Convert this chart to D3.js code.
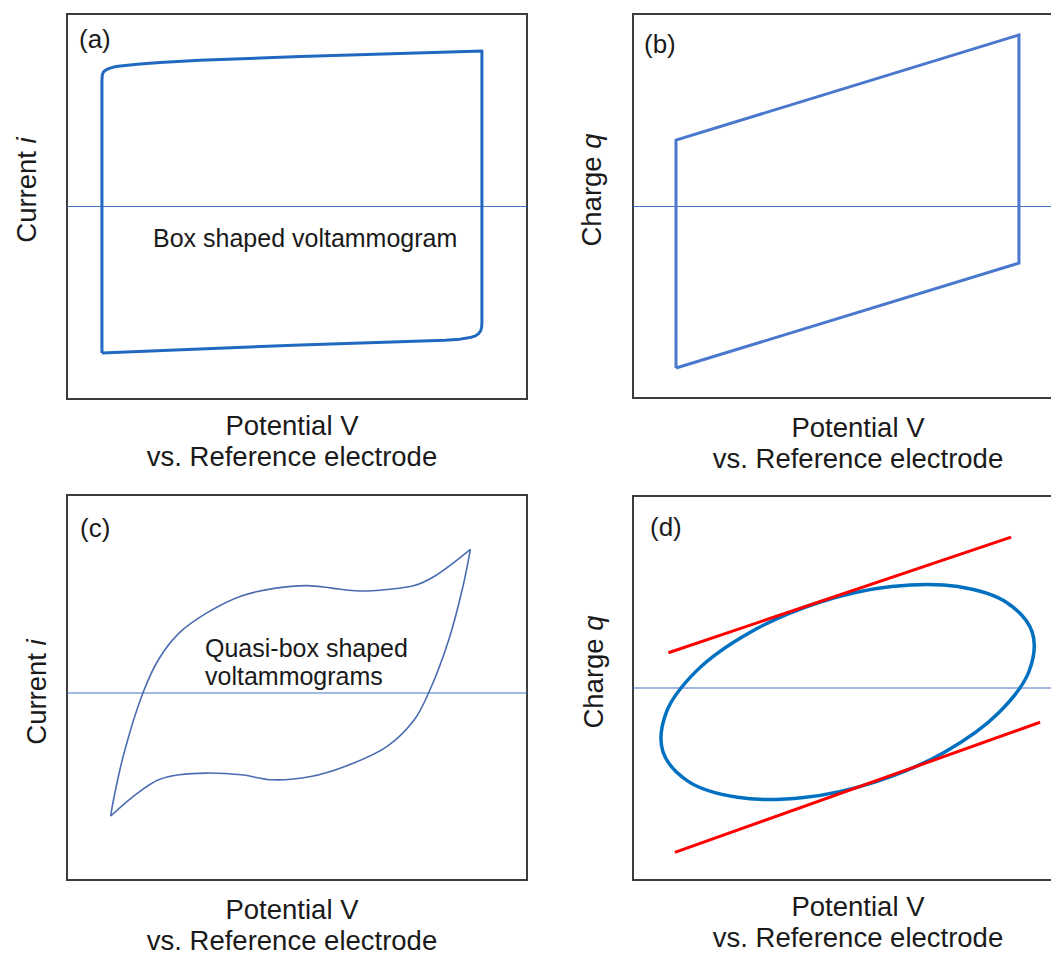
<!DOCTYPE html>
<html>
<head>
<meta charset="utf-8">
<script src="https://cdn.jsdelivr.net/npm/d3@7"></script>
<style>
  body { margin: 0; background: #fff; }
  text { font-family: "Liberation Sans", Arial, sans-serif; fill: #1a1a1a; }
</style>
</head>
<body>
<svg id="chart" width="1051" height="955"></svg>
<script>
// normalised potential (0..1) vs normalised current / charge (-1..1)
const boxCV = [
  [0.076, -0.761], [0.076, 0.657], [0.0767, 0.683], [0.0793, 0.699], [0.0848, 0.710],
  [0.0935, 0.719], [0.1065, 0.727], [0.1261, 0.733], [0.1587, 0.740], [0.2022, 0.748],
  [0.2891, 0.760], [0.507, 0.779], [0.724, 0.795], [0.902, 0.808],
  [0.902, -0.600], [0.9015, -0.626], [0.8996, -0.644], [0.8952, -0.660], [0.8880, -0.672],
  [0.8761, -0.681], [0.8543, -0.689], [0.8217, -0.695], [0.507, -0.719], [0.289, -0.740],
  [0.076, -0.761]
];
const chargeBox = [
  [0.0935, -0.839], [0.0935, 0.345], [0.839, 0.891], [0.839, -0.294], [0.0935, -0.839]
];
const quasiForward = [
  [0.095, -0.639], [0.101, -0.556], [0.124, -0.312], [0.165, 0], [0.199, 0.174],
  [0.244, 0.312], [0.304, 0.416], [0.379, 0.504], [0.454, 0.545], [0.522, 0.558],
  [0.575, 0.545], [0.635, 0.530], [0.696, 0.538], [0.755, 0.558], [0.800, 0.608],
  [0.877, 0.746]
];
const quasiReverse = [
  [0.877, 0.746], [0.861, 0.556], [0.830, 0.277], [0.786, 0], [0.755, -0.139],
  [0.696, -0.277], [0.604, -0.382], [0.530, -0.434], [0.447, -0.451], [0.379, -0.425],
  [0.304, -0.416], [0.244, -0.425], [0.199, -0.451], [0.154, -0.519], [0.095, -0.639]
];
const chargeLoop = [
  [0.868, 0.289], [0.861, 0.087], [0.794, -0.131], [0.678, -0.332], [0.529, -0.486],
  [0.371, -0.569], [0.227, -0.568], [0.120, -0.485], [0.065, -0.330], [0.072, -0.129],
  [0.138, 0.089], [0.255, 0.290], [0.404, 0.444], [0.562, 0.527], [0.706, 0.527],
  [0.813, 0.443]
];
const tangentTop = [[0.077, 0.183], [0.822, 0.784]];
const tangentBottom = [[0.091, -0.854], [0.885, -0.178]];

const panelTags = ['(a)', '(b)', '(c)', '(d)'];
const yTitles = ['Current', 'Charge', 'Current', 'Charge'];
const yVars = ['i', 'q', 'i', 'q'];
const xTitle = ['Potential V', 'vs. Reference electrode'];

const svg = d3.select('#chart');
const UNIT = 192.5;

const panels = [
  { x0: 67, x1: 527, y0: 14, y1: 399, zero: 206.5, tag: [79, 48], yt: [36, 190], xt: 292, xtY: 435 },
  { x0: 633, x1: 1093, y0: 14, y1: 398, zero: 206.5, tag: [644, 53], yt: [601, 190], xt: 858, xtY: 437 },
  { x0: 67, x1: 527, y0: 495, y1: 880, zero: 693, tag: [80, 537], yt: [46, 692], xt: 292, xtY: 919 },
  { x0: 633, x1: 1093, y0: 496, y1: 880, zero: 688, tag: [650, 536], yt: [603, 672], xt: 858, xtY: 916 }
];

panels.forEach((p, k) => {
  p.x = d3.scaleLinear().domain([0, 1]).range([p.x0, p.x1]);
  p.y = d3.scaleLinear().domain([-1, 1]).range([p.zero + UNIT, p.zero - UNIT]);
  const g = svg.append('g');

  g.append('rect')
    .attr('x', p.x0).attr('y', p.y0)
    .attr('width', p.x1 - p.x0).attr('height', p.y1 - p.y0)
    .attr('fill', 'none').attr('stroke', '#3c3c3c').attr('stroke-width', 2);

  g.append('line')
    .attr('x1', p.x0).attr('x2', p.x1)
    .attr('y1', p.y(0)).attr('y2', p.y(0))
    .attr('stroke', '#4472c4').attr('stroke-width', 1.2);

  g.append('text')
    .attr('x', p.tag[0]).attr('y', p.tag[1])
    .attr('font-size', 26)
    .text(panelTags[k]);

  const yt = g.append('text')
    .attr('transform', `translate(${p.yt[0]},${p.yt[1]}) rotate(-90)`)
    .attr('text-anchor', 'middle')
    .attr('font-size', 27.5);
  yt.append('tspan').text(yTitles[k] + ' ');
  yt.append('tspan').attr('font-style', 'italic').text(yVars[k]);

  xTitle.forEach((t, j) => {
    g.append('text')
      .attr('x', p.xt).attr('y', p.xtY + j * 31)
      .attr('text-anchor', 'middle')
      .attr('font-size', 27.5)
      .text(t);
  });
});

function lineFor(p, curve) {
  return d3.line().x((d) => p.x(d[0])).y((d) => p.y(d[1])).curve(curve || d3.curveLinear);
}

// (a)
svg.append('path')
  .datum(boxCV)
  .attr('d', lineFor(panels[0]))
  .attr('fill', 'none').attr('stroke', '#2169c0').attr('stroke-width', 3)
  .attr('stroke-linejoin', 'round');
svg.append('text')
  .attr('x', 153).attr('y', 247)
  .attr('font-size', 25)
  .text('Box shaped voltammogram');

// (b)
svg.append('path')
  .datum(chargeBox)
  .attr('d', lineFor(panels[1]))
  .attr('fill', 'none').attr('stroke', '#4a78cc').attr('stroke-width', 3);

// (c)
[quasiForward, quasiReverse].forEach((branch) => {
  svg.append('path')
    .datum(branch)
    .attr('d', lineFor(panels[2], d3.curveCatmullRom))
    .attr('fill', 'none').attr('stroke', '#4a6cb0').attr('stroke-width', 1.6);
});
const qt = svg.append('text').attr('font-size', 25);
qt.append('tspan').attr('x', 205).attr('y', 657).text('Quasi-box shaped');
qt.append('tspan').attr('x', 205).attr('y', 685).text('voltammograms');

// (d)
svg.append('path')
  .datum(chargeLoop)
  .attr('d', lineFor(panels[3], d3.curveCatmullRomClosed))
  .attr('fill', 'none').attr('stroke', '#0070c0').attr('stroke-width', 3.5);
[tangentTop, tangentBottom].forEach((seg) => {
  svg.append('path')
    .datum(seg)
    .attr('d', lineFor(panels[3]))
    .attr('fill', 'none').attr('stroke', '#ff0000').attr('stroke-width', 3);
});
</script>
</body>
</html>
